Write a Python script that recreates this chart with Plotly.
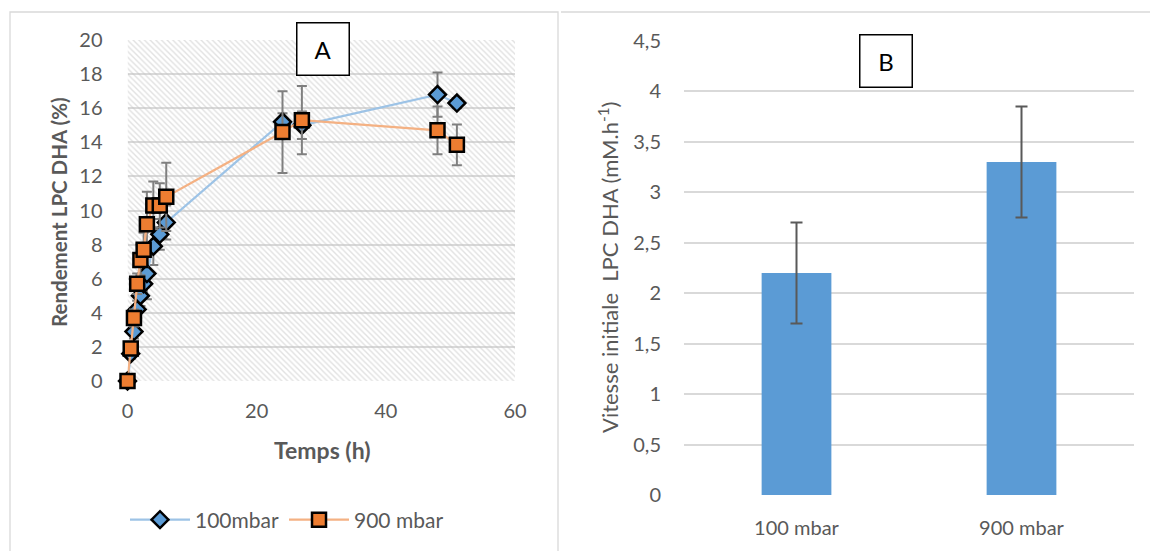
import plotly.graph_objects as go

# ---------------- data ----------------
time_h = [0, 0.5, 1, 1.5, 2, 2.5, 3, 4, 5, 6, 24, 27, 48, 51]
y_100 = [0, 1.6, 2.9, 4.2, 5.0, 5.7, 6.3, 7.9, 8.6, 9.3, 15.2, 15.0, 16.8, 16.3]
err_100 = [0, 0.3, 0.4, 0.5, 0.6, 0.7, 1.5, 1.1, 0.9, 1.0, 0.5, 0.8, 1.3, 0.3]
y_900 = [0, 1.9, 3.7, 5.7, 7.1, 7.7, 9.2, 10.3, 10.3, 10.8, 14.6, 15.3, 14.7, 13.85]
err_900 = [0, 0.3, 0.5, 0.6, 0.9, 1.0, 1.9, 1.4, 1.3, 2.0, 2.4, 2.0, 1.4, 1.2]

bar_cats = ["100 mbar", "900 mbar"]
bar_vals = [2.2, 3.3]
bar_errs = [0.5, 0.55]

series_names = ["100mbar", "900 mbar"]
xA_range = [0, 60]
yA_range = [0, 20]
yB_range = [0, 4.5]

# ---------------- style ----------------
W, H = 1150, 551
FONT = "Lato, 'Open Sans', sans-serif"
GREY_TXT = "#595959"
GRID = "#D9D9D9"


def px_x(p):
    return p / W


def px_y(p):
    return 1 - p / H


fig = go.Figure()

# hatched plot-area background for chart A
fig.add_trace(go.Scatter(
    x=[xA_range[0], xA_range[1], xA_range[1], xA_range[0], xA_range[0]],
    y=[yA_range[0], yA_range[0], yA_range[1], yA_range[1], yA_range[0]],
    mode="lines", line=dict(width=0), fill="toself",
    fillcolor="rgba(0,0,0,0)",
    fillpattern=dict(shape="\\", fgcolor="#C4C4C4", bgcolor="rgba(0,0,0,0)",
                     size=4, solidity=0.35),
    hoverinfo="skip", showlegend=False, xaxis="x", yaxis="y",
))

fig.add_trace(go.Scatter(
    x=time_h, y=y_100, name=series_names[0], mode="lines+markers",
    line=dict(color="#9DC3E6", width=2.25),
    marker=dict(symbol="diamond", size=13, color="#5B9BD5",
                line=dict(color="black", width=2.5)),
    error_y=dict(type="data", array=err_100, color="#7F7F7F",
                 thickness=2, width=5),
    cliponaxis=False, xaxis="x", yaxis="y",
))
fig.add_trace(go.Scatter(
    x=time_h, y=y_900, name=series_names[1], mode="lines+markers",
    line=dict(color="#F4B183", width=2.25),
    marker=dict(symbol="square", size=14, color="#ED7D31",
                line=dict(color="black", width=2.5)),
    error_y=dict(type="data", array=err_900, color="#7F7F7F",
                 thickness=2, width=5),
    cliponaxis=False, xaxis="x", yaxis="y",
))

fig.add_trace(go.Bar(
    x=bar_cats, y=bar_vals, marker=dict(color="#5B9BD5", line=dict(width=0)),
    error_y=dict(type="data", array=bar_errs, color="#595959",
                 thickness=2, width=6),
    showlegend=False, xaxis="x2", yaxis="y2",
))

tickfont = dict(family=FONT, size=20, color=GREY_TXT)

fig.update_layout(
    width=W, height=H,
    margin=dict(l=0, r=0, t=0, b=0),
    paper_bgcolor="white", plot_bgcolor="rgba(0,0,0,0)",
    separators=", ",
    showlegend=True,
    bargap=0.69,
    legend=dict(orientation="h", x=px_x(287), xanchor="center",
                y=px_y(520), yanchor="middle",
                font=dict(family=FONT, size=21, color=GREY_TXT),
                bgcolor="rgba(0,0,0,0)", itemwidth=60, tracegroupgap=0),
    xaxis=dict(domain=[px_x(127.5), px_x(515)], range=xA_range, dtick=20,
               showgrid=False, zeroline=False, showline=False,
               ticks="outside", ticklen=12, tickcolor="rgba(0,0,0,0)",
               tickfont=tickfont, anchor="y", automargin=False, fixedrange=True),
    yaxis=dict(domain=[px_y(381), px_y(40)], range=yA_range, dtick=2,
               showgrid=True, gridcolor=GRID, gridwidth=2, zeroline=False,
               showline=False, ticks="outside", ticklen=20,
               tickcolor="rgba(0,0,0,0)", tickfont=tickfont, anchor="x",
               automargin=False, fixedrange=True),
    xaxis2=dict(domain=[px_x(684), px_x(1134)], showgrid=False, zeroline=False,
                showline=False, ticks="outside", ticklen=15,
                tickcolor="rgba(0,0,0,0)", tickfont=tickfont, anchor="y2",
                automargin=False, fixedrange=True),
    yaxis2=dict(domain=[px_y(495), px_y(41)], range=yB_range, dtick=0.5,
                showgrid=True, gridcolor=GRID, gridwidth=1.5, zeroline=False,
                showline=False, ticks="outside", ticklen=18,
                tickcolor="rgba(0,0,0,0)", tickfont=tickfont, anchor="x2",
                automargin=False, fixedrange=True),
)

annotations = [
    dict(text="<b>Rendement LPC DHA (%)</b>", x=px_x(59), y=px_y(212),
         textangle=-90, font=dict(family=FONT, size=20.5, color=GREY_TXT)),
    dict(text="<b>Temps (h)</b>", x=px_x(322), y=px_y(450),
         font=dict(family=FONT, size=23, color=GREY_TXT)),
    dict(text="Vitesse initiale&nbsp; LPC DHA (mM.h<sup>-1</sup>)",
         x=px_x(608), y=px_y(268), textangle=-90,
         font=dict(family=FONT, size=22, color=GREY_TXT)),
    dict(text="A", x=px_x(323.5), y=px_y(49.5), width=51, height=51,
         bordercolor="black", borderwidth=1.5, bgcolor="white", borderpad=0,
         font=dict(family=FONT, size=24, color="black")),
    dict(text="B", x=px_x(885.5), y=px_y(61.5), width=51, height=51,
         bordercolor="black", borderwidth=1.5, bgcolor="white", borderpad=0,
         font=dict(family=FONT, size=24, color="black")),
]
for a in annotations:
    a.update(xref="paper", yref="paper", showarrow=False,
             xanchor="center", yanchor="middle")
fig.update_layout(annotations=annotations)

fig.update_layout(shapes=[
    dict(type="rect", xref="paper", yref="paper", x0=px_x(10), x1=px_x(558),
         y0=-0.05, y1=px_y(12), line=dict(color=GRID, width=1.3), layer="below"),
    dict(type="line", xref="paper", yref="paper", x0=px_x(561), x1=1.0,
         y0=px_y(12), y1=px_y(12), line=dict(color=GRID, width=1.3), layer="below"),
])

fig.write_html("out.html",
               config={"displayModeBar": False},
               post_script="document.body.style.margin='0';"
                           "document.body.style.padding='0';")
